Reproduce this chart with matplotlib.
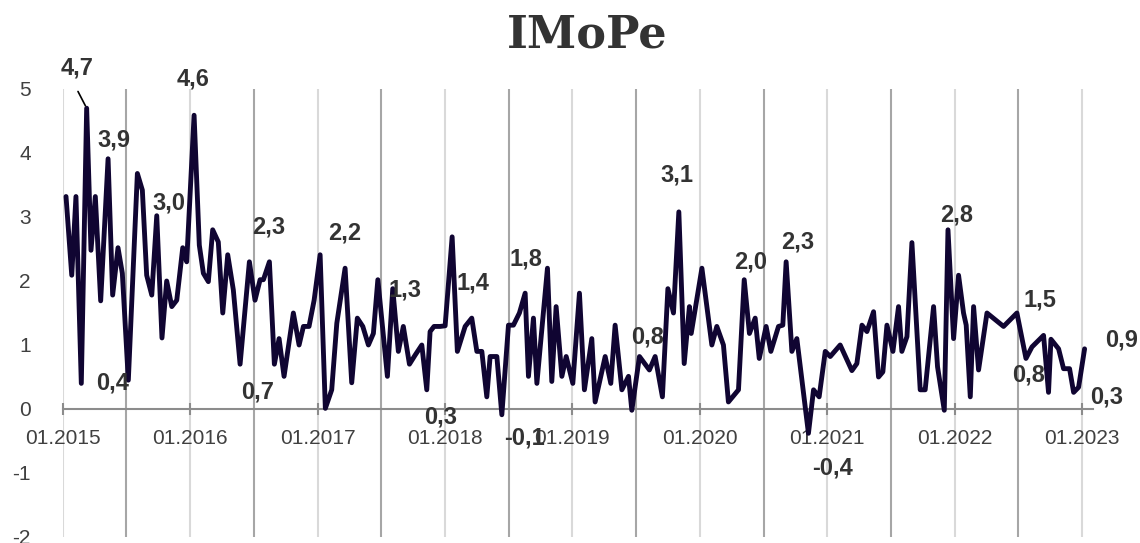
import matplotlib
matplotlib.use("Agg")
import matplotlib.pyplot as plt
import numpy as np

# decimal-year positions and values of the series
dates = [
    2015.026, 2015.071, 2015.104, 2015.146, 2015.188, 2015.222, 2015.256, 2015.298,
    2015.356, 2015.392, 2015.434, 2015.468, 2015.515, 2015.586, 2015.625, 2015.659,
    2015.699, 2015.738, 2015.779, 2015.816, 2015.856, 2015.895, 2015.942, 2015.973,
    2016.031, 2016.072, 2016.104, 2016.143, 2016.177, 2016.221, 2016.256, 2016.295,
    2016.339, 2016.392, 2016.465, 2016.509, 2016.549, 2016.575, 2016.622, 2016.661,
    2016.698, 2016.737, 2016.810, 2016.855, 2016.889, 2016.933, 2016.973, 2017.020,
    2017.061, 2017.111, 2017.151, 2017.216, 2017.268, 2017.312, 2017.355, 2017.399,
    2017.438, 2017.473, 2017.548, 2017.590, 2017.634, 2017.673, 2017.721, 2017.765,
    2017.818, 2017.857, 2017.883, 2017.914, 2017.962, 2018.001, 2018.056, 2018.097,
    2018.158, 2018.210, 2018.250, 2018.289, 2018.328, 2018.354, 2018.407, 2018.446,
    2018.498, 2018.537, 2018.584, 2018.629, 2018.655, 2018.694, 2018.721, 2018.804,
    2018.838, 2018.872, 2018.917, 2018.951, 2019.003, 2019.055, 2019.094, 2019.152,
    2019.178, 2019.257, 2019.301, 2019.335, 2019.388, 2019.440, 2019.466, 2019.526,
    2019.604, 2019.649, 2019.706, 2019.749, 2019.793, 2019.835, 2019.877, 2019.918,
    2019.932, 2020.016, 2020.094, 2020.133, 2020.185, 2020.224, 2020.303, 2020.348,
    2020.389, 2020.434, 2020.466, 2020.520, 2020.557, 2020.617, 2020.651, 2020.677,
    2020.722, 2020.761, 2020.852, 2020.892, 2020.936, 2020.984, 2021.023, 2021.101,
    2021.193, 2021.232, 2021.272, 2021.311, 2021.363, 2021.402, 2021.436, 2021.468,
    2021.515, 2021.559, 2021.585, 2021.625, 2021.664, 2021.729, 2021.768, 2021.834,
    2021.865, 2021.918, 2021.947, 2021.991, 2022.030, 2022.069, 2022.090, 2022.122,
    2022.148, 2022.187, 2022.253, 2022.383, 2022.488, 2022.559, 2022.606, 2022.697,
    2022.736, 2022.755, 2022.815, 2022.854, 2022.901, 2022.933, 2022.972, 2023.019,
]
values = [
    3.32, 2.09, 3.32, 0.40, 4.70, 2.48, 3.32, 1.69,
    3.91, 1.78, 2.52, 2.12, 0.45, 3.68, 3.42, 2.09,
    1.78, 3.02, 1.11, 2.00, 1.60, 1.70, 2.52, 2.30,
    4.59, 2.56, 2.12, 1.99, 2.80, 2.61, 1.50, 2.41,
    1.86, 0.70, 2.30, 1.70, 2.02, 2.02, 2.30, 0.70,
    1.10, 0.51, 1.50, 1.00, 1.29, 1.29, 1.70, 2.41,
    0.01, 0.30, 1.34, 2.20, 0.41, 1.42, 1.29, 1.00,
    1.18, 2.02, 0.51, 1.88, 0.90, 1.29, 0.70, 0.84,
    1.00, 0.30, 1.21, 1.29, 1.29, 1.30, 2.69, 0.90,
    1.29, 1.42, 0.90, 0.90, 0.19, 0.82, 0.82, -0.09,
    1.31, 1.31, 1.50, 1.81, 0.51, 1.42, 0.40, 2.20,
    0.43, 1.60, 0.51, 0.82, 0.40, 1.81, 0.30, 1.10,
    0.11, 0.82, 0.40, 1.31, 0.30, 0.51, -0.02, 0.82,
    0.61, 0.82, 0.19, 1.88, 1.50, 3.08, 0.71, 1.60,
    1.18, 2.20, 1.00, 1.29, 1.00, 0.11, 0.30, 2.02,
    1.18, 1.42, 0.79, 1.29, 0.90, 1.29, 1.31, 2.30,
    0.90, 1.10, -0.38, 0.30, 0.19, 0.90, 0.82, 1.00,
    0.60, 0.71, 1.31, 1.21, 1.52, 0.50, 0.58, 1.31,
    0.90, 1.60, 0.90, 1.13, 2.60, 0.30, 0.30, 1.60,
    0.66, -0.02, 2.80, 1.10, 2.09, 1.50, 1.31, 0.19,
    1.60, 0.61, 1.50, 1.29, 1.50, 0.79, 0.97, 1.15,
    0.26, 1.09, 0.94, 0.63, 0.63, 0.26, 0.34, 0.94,
]

# data labels: text and where the text sits (decimal year, value)
label_texts = ["4,7", "3,9", "0,4", "3,0", "4,6", "2,3", "0,7", "2,2", "1,3", "0,3",
               "1,4", "1,8", "-0,1", "0,8", "3,1", "2,0", "2,3", "-0,4", "2,8", "1,5",
               "0,8", "0,9", "0,3"]
label_x = [2015.112, 2015.403, 2015.395, 2015.834, 2016.023, 2016.619, 2016.533, 2017.216,
           2017.687, 2017.962, 2018.221, 2018.637, 2018.621, 2019.586, 2019.822, 2020.395,
           2020.764, 2021.039, 2022.017, 2022.671, 2022.577, 2023.312, 2023.195]
label_y = [5.33, 4.20, 0.41, 3.22, 5.16, 2.84, 0.27, 2.75, 1.86, -0.13, 1.97, 2.34, -0.45,
           1.13, 3.66, 2.30, 2.61, -0.92, 3.03, 1.70, 0.53, 1.08, 0.19]

year_ticks = list(range(2015, 2024))
year_labels = ["01.%d" % y for y in year_ticks]
y_ticks = [-2, -1, 0, 1, 2, 3, 4, 5]

W, H = 1140, 543
fig = plt.figure(figsize=(W / 100, H / 100), dpi=100)
ax = fig.add_axes([62.7 / W, 1 - 537 / H, (1093 - 62.7) / W, (537 - 89) / H])

# vertical grid: January lines light, mid-year lines darker
for y in year_ticks:
    ax.axvline(y, color="#d9d9d9", lw=1.5, zorder=0)
for y in year_ticks[:-1]:
    ax.axvline(y + 0.5, color="#a6a6a6", lw=1.5, zorder=0)

ax.plot(dates, values, color="#100532", lw=3.5, solid_joinstyle="round",
        solid_capstyle="round", zorder=3)

ax.set_xlim(2015.0, 2023.085)
ax.set_ylim(-2, 5)

for s in ["left", "right", "top"]:
    ax.spines[s].set_visible(False)
ax.spines["bottom"].set_position(("data", 0))
ax.spines["bottom"].set_color("#8c8c8c")
ax.spines["bottom"].set_linewidth(1.5)
ax.spines["bottom"].set_zorder(2)

ax.set_xticks(year_ticks)
ax.set_xticklabels(year_labels)
ax.set_yticks(y_ticks)
ax.set_yticklabels([str(v) for v in y_ticks])
ax.tick_params(axis="x", direction="inout", length=9, width=1.5, color="#8c8c8c",
               pad=10, labelsize=15, labelcolor="#404040")
ax.tick_params(axis="y", length=0, pad=23, labelsize=15, labelcolor="#404040")
for lab in ax.get_xticklabels() + ax.get_yticklabels():
    lab.set_fontfamily("Liberation Sans")

for t, x, y in zip(label_texts, label_x, label_y):
    ax.text(x, y, t, ha="center", va="center", fontsize=17, fontweight="bold",
            color="#333333", family="Liberation Sans", zorder=4, clip_on=False)

# leader line for the 4,7 label
ax.annotate("", xy=(dates[4], values[4]), xytext=(2015.110, 5.0),
            arrowprops=dict(arrowstyle="-", color="black", lw=1.2), annotation_clip=False)

fig.text(587 / W, 1 - 35 / H, "IMoPe", ha="center", va="center", fontsize=32,
         fontweight="bold", family="DejaVu Serif", color="#333333")

fig.savefig("out.png", dpi=100)
